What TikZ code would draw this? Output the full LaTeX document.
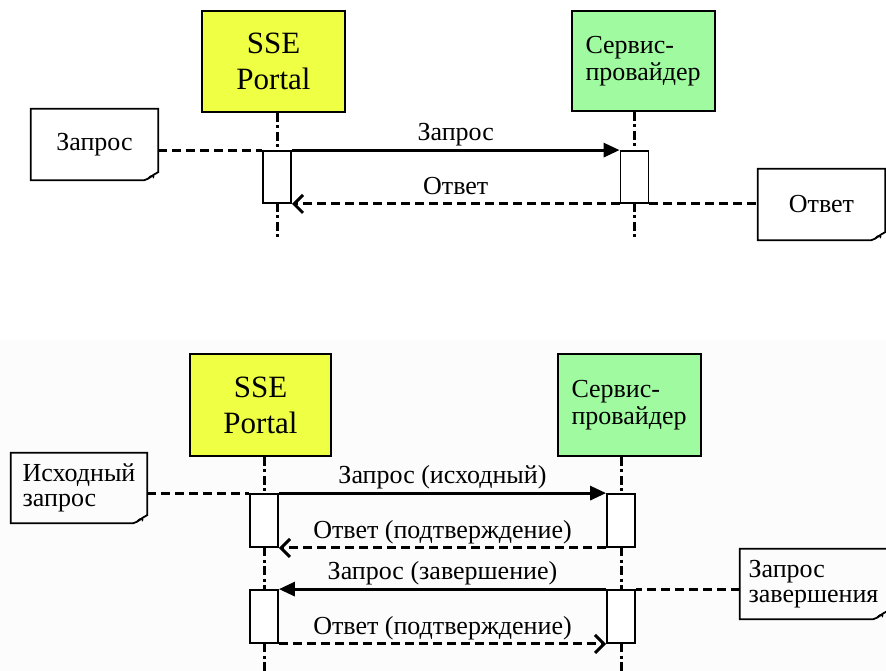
\documentclass[tikz,border=0pt]{standalone}
\usepackage{fontspec}
\setmainfont{Liberation Serif}
\usetikzlibrary{arrows.meta}

\definecolor{portalyellow}{RGB}{238,255,68}
\definecolor{providergreen}{RGB}{160,250,160}
\definecolor{panelgray}{RGB}{252,252,252}

\tikzset{
  actor/.style={draw=black, line width=1.8pt, inner sep=0pt},
  portal/.style={actor, fill=portalyellow, align=center,
    font=\fontsize{31}{36}\selectfont},
  provider/.style={actor, fill=providergreen, align=left, text width=116pt,
    inner xsep=13.5pt, font=\fontsize{26}{27}\selectfont},
  activation/.style={draw=black, fill=white, line width=1.8pt, inner sep=0pt,
    minimum width=28pt, minimum height=52pt},
  lifeline/.style={line width=3pt, dash pattern=on 9pt off 3.5pt on 3pt off 3.5pt},
  call/.style={line width=3pt, -{Triangle[length=16pt,width=14pt]}},
  reply/.style={line width=3pt, dash pattern=on 9pt off 5pt,
    -{Straight Barb[length=9pt,width=18pt]}},
  link/.style={line width=3pt, dash pattern=on 9pt off 5pt},
  msglabel/.style={above, inner sep=2pt, text depth=6pt,
    font=\fontsize{26}{26}\selectfont},
  note/.style={inner sep=0pt, align=left, font=\fontsize{26}{25}\selectfont},
}

% outline of a note with a curled bottom-right corner
\newcommand\drawnote[1]{%
  \draw[line width=1.8pt] (#1.north west) -- (#1.north east)
    -- ([yshift=8pt]#1.south east)
    .. controls ([xshift=-5pt,yshift=6pt]#1.south east)
       and ([xshift=-9pt,yshift=1pt]#1.south east) .. ([xshift=-14pt]#1.south east)
    -- (#1.south west) -- cycle;
  \draw[line width=1.2pt] ([xshift=-10pt,yshift=2pt]#1.south east)
    .. controls ([xshift=-7pt,yshift=6pt]#1.south east)
       and ([xshift=-3pt,yshift=5pt]#1.south east) .. ([xshift=-5pt,yshift=2pt]#1.south east);
}

\begin{document}
\begin{tikzpicture}[x=1pt, y=-1pt]
\useasboundingbox (0,0) rectangle (886,671);
\fill[white] (0,0) rectangle (886,340);
\fill[panelgray] (0,340) rectangle (886,671);

% ---------- simple request / response ----------
\node[portal, minimum width=143pt, minimum height=101pt] (sseA) at (273.5,61.5) {SSE\\Portal};
\node[provider, minimum height=100pt] (spA) at (643.5,61) {Сервис-\\провайдер};

\coordinate (endA1) at (277,237);
\coordinate (endA2) at (634.5,237);
\draw[lifeline] (sseA.south -| 277,0) -- (277,151);
\draw[lifeline] (277,203) -- (endA1);
\draw[lifeline] (spA.south -| 634.5,0) -- (634.5,151);
\draw[lifeline] (634.5,203) -- (endA2);

\node[activation] (actA1) at (277,177) {};
\node[activation] (actA2) at (634.5,177) {};

\node[note, minimum width=127pt, minimum height=71pt] (noteA) at (94.5,144.5) {Запрос};
\drawnote{noteA}
\node[note, minimum width=127pt, minimum height=71pt] (noteB) at (821.5,204.5) {Ответ};
\drawnote{noteB}

\draw[link] (noteA.east |- actA1.north west) -- (actA1.north west);
\draw[call] (actA1.north east) -- node[msglabel] {Запрос} (actA2.north west);
\draw[reply] (actA2.south west) -- node[msglabel] {Ответ} (actA1.south east);
\draw[link] (actA2.south east) -- (noteB.west |- actA2.south east);

% ---------- request with completion ----------
\node[portal, minimum width=141pt, minimum height=102pt] (sseB) at (260.5,405) {SSE\\Portal};
\node[provider, minimum height=102pt] (spB) at (629.5,405) {Сервис-\\провайдер};

\coordinate (endB1) at (264,675);
\coordinate (endB2) at (621,675);
\draw[lifeline] (sseB.south -| 264,0) -- (264,494);
\draw[lifeline] (264,547) -- (264,590);
\draw[lifeline] (264,643) -- (endB1);
\draw[lifeline] (spB.south -| 621,0) -- (621,494);
\draw[lifeline] (621,547) -- (621,590);
\draw[lifeline] (621,643) -- (endB2);

\node[activation, minimum height=53pt] (actB1) at (264,520.5) {};
\node[activation, minimum height=53pt] (actB2) at (264,616.5) {};
\node[activation, minimum height=53pt] (actB3) at (621,520.5) {};
\node[activation, minimum height=53pt] (actB4) at (621,616.5) {};

\node[note, minimum width=136pt, minimum height=70pt] (noteC) at (79,488) {Исходный\\запрос};
\drawnote{noteC}
\node[note, minimum width=147pt, minimum height=70pt] (noteD) at (813.5,584) {Запрос\\завершения};
\drawnote{noteD}

\draw[link] (noteC.east |- actB1.north west) -- (actB1.north west);
\draw[call] (actB1.north east) -- node[msglabel] {Запрос (исходный)} (actB3.north west);
\draw[reply] (actB3.south west) -- node[msglabel] {Ответ (подтверждение)} (actB1.south east);
\draw[link] (noteD.west |- actB4.north east) -- (actB4.north east);
\draw[call] (actB4.north west) -- node[msglabel] {Запрос (завершение)} (actB2.north east);
\draw[reply] (actB2.south east) -- node[msglabel] {Ответ (подтверждение)} (actB4.south west);
\end{tikzpicture}
\end{document}
